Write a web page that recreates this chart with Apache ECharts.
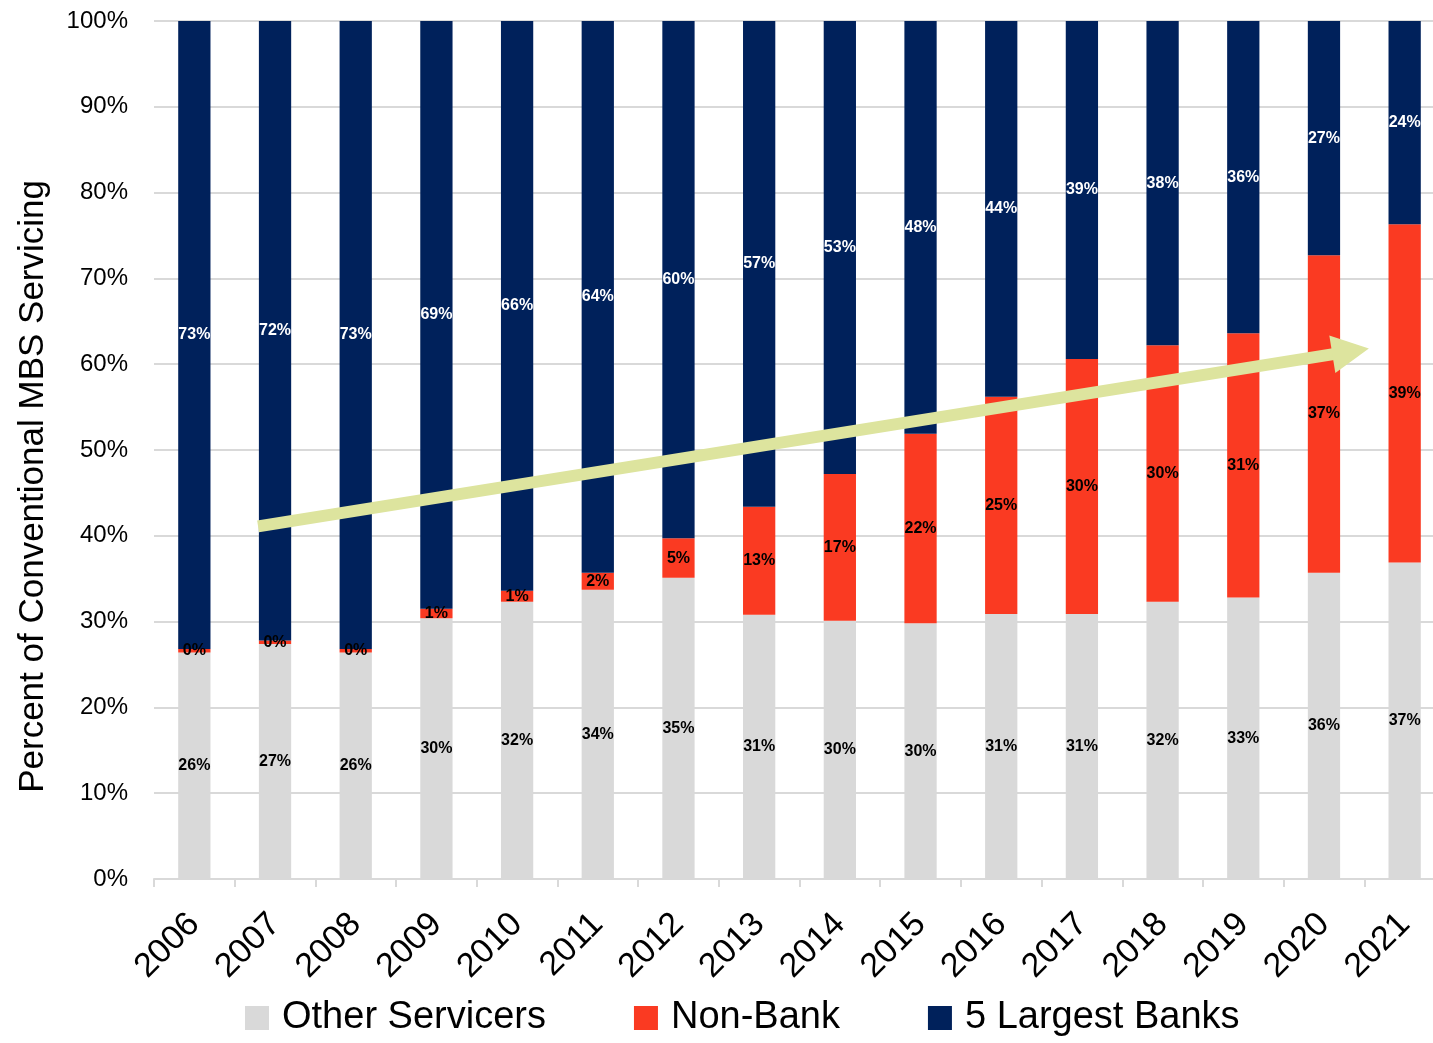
<!DOCTYPE html>
<html>
<head>
<meta charset="utf-8">
<script src="https://cdn.jsdelivr.net/npm/echarts@6/dist/echarts.min.js"></script>
<style>
  html, body { margin: 0; padding: 0; background: #fff; overflow: hidden; }
  #chart { width: 1450px; height: 1043px; }
</style>
</head>
<body>
<div id="chart"></div>
<script>
const years = ['2006', '2007', '2008', '2009', '2010', '2011', '2012', '2013',
  '2014', '2015', '2016', '2017', '2018', '2019', '2020', '2021'];
const otherServicers = [26.4, 27.4, 26.4, 30.4, 32.3, 33.7, 35.1, 30.8, 30.1, 29.8, 30.9, 30.9, 32.3, 32.8, 35.7, 36.9];
const nonBank = [0.4, 0.4, 0.4, 1.1, 1.3, 2.0, 4.6, 12.6, 17.1, 22.1, 25.3, 29.7, 29.9, 30.8, 37.0, 39.4];
const largestBanks = [73.2, 72.2, 73.2, 68.5, 66.4, 64.3, 60.3, 56.6, 52.8, 48.1, 43.8, 39.4, 37.8, 36.4, 27.3, 23.7];
// trend arrow, in (category position, percent)
const arrowStart = [0.79, 41.1];
const arrowEnd = [14.33, 61.5];

const FONT = "'Liberation Sans Narrow', 'Arial Narrow', 'Liberation Sans', sans-serif";

const chart = echarts.init(document.getElementById('chart'));

const labelFor = color => ({
  show: true,
  position: 'inside',
  formatter: p => Math.round(p.value) + '%',
  fontFamily: FONT,
  fontSize: 16,
  fontWeight: 'bold',
  color: color
});

const option = {
  animation: false,
  textStyle: { fontFamily: FONT },
  grid: { left: 154, right: 5, top: 21, bottom: 164 },
  legend: {
    bottom: 1,
    left: 240,
    itemWidth: 24,
    itemHeight: 24,
    itemGap: 88,
    icon: 'rect',
    textStyle: { fontFamily: FONT, fontSize: 38, color: '#000', padding: [0, 0, 0, 8] },
    data: ['Other Servicers', 'Non-Bank', '5 Largest Banks']
  },
  graphic: [{
    type: 'text',
    left: 16,
    top: 180,
    rotation: Math.PI / 2,
    style: {
      text: 'Percent of Conventional MBS Servicing',
      fontFamily: FONT,
      fontSize: 35,
      fill: '#000'
    }
  }],
  xAxis: [{
    type: 'category',
    data: years,
    axisLine: { lineStyle: { color: '#d9d9d9', width: 2 } },
    axisTick: { show: true, length: 8, lineStyle: { color: '#d9d9d9', width: 2 } },
    axisLabel: { rotate: 45, fontSize: 34, color: '#000', margin: 40, fontFamily: FONT }
  }, {
    type: 'value',
    min: -0.5,
    max: 15.5,
    show: false
  }],
  yAxis: {
    type: 'value',
    min: 0,
    max: 100,
    interval: 10,
    axisLine: { show: false },
    axisTick: { show: false },
    axisLabel: { formatter: '{value}%', fontSize: 24, color: '#000', margin: 26, fontFamily: FONT },
    splitLine: { lineStyle: { color: '#d9d9d9', width: 2 } }
  },
  series: [{
    name: 'Other Servicers',
    type: 'bar',
    stack: 'total',
    barWidth: '40%',
    itemStyle: { color: '#d9d9d9' },
    label: labelFor('#000'),
    data: otherServicers
  }, {
    name: 'Non-Bank',
    type: 'bar',
    stack: 'total',
    itemStyle: { color: '#fa3a22' },
    label: labelFor('#000'),
    data: nonBank
  }, {
    name: '5 Largest Banks',
    type: 'bar',
    stack: 'total',
    itemStyle: { color: '#00215b' },
    label: labelFor('#fff'),
    data: largestBanks
  }, {
    name: 'trend',
    type: 'line',
    xAxisIndex: 1,
    data: [],
    silent: true,
    markLine: {
      silent: true,
      symbol: ['none', 'triangle'],
      symbolSize: [38, 37],
      label: { show: false },
      lineStyle: { color: '#dde49e', width: 12, type: 'solid' },
      data: [[{ coord: arrowStart }, { coord: arrowEnd }]]
    }
  }]
};

chart.setOption(option);
</script>
</body>
</html>
